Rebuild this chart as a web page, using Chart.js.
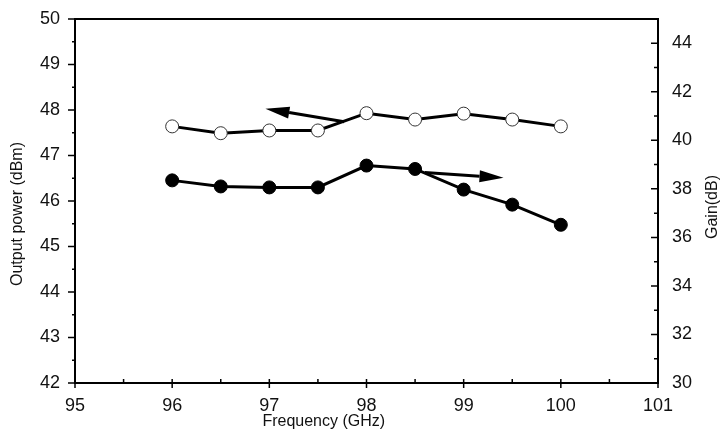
<!DOCTYPE html>
<html>
<head>
<meta charset="utf-8">
<script src="https://cdn.jsdelivr.net/npm/chart.js@4"></script>
<style>
  body { margin: 0; background: #fff; }
  #chart { display: block; }
</style>
</head>
<body>
<canvas id="chart" width="725" height="435"></canvas>
<script>
// Data
const frequency = [96, 96.5, 97, 97.5, 98, 98.5, 99, 99.5, 100];
const outputPower = [47.64, 47.49, 47.55, 47.55, 47.93, 47.79, 47.92, 47.79, 47.64];
const gain = [38.35, 38.1, 38.06, 38.06, 38.96, 38.82, 37.97, 37.35, 36.52];

const xTicks = [95, 96, 97, 98, 99, 100, 101];
const leftTicks = [42, 43, 44, 45, 46, 47, 48, 49, 50];
const rightTicks = [30, 32, 34, 36, 38, 40, 42, 44];

// Panah penunjuk sumbu (koordinat data)
const powerArrow = { from: [97.77, 47.74], to: [96.96, 48.03] };
const gainArrow = { from: [98.6, 38.67], to: [99.41, 38.46] };

const font = 'Arial, "Liberation Sans", sans-serif';

function toPoints(xs, ys) {
  return xs.map((x, i) => ({ x: x, y: ys[i] }));
}

function noPad(s) {
  s.paddingTop = 0;
  s.paddingBottom = 0;
  s.paddingLeft = 0;
  s.paddingRight = 0;
}

// Plugin untuk bingkai, tick mayor/minor, panah dan judul sumbu
const framePlugin = {
  id: 'frame',
  afterDatasetsDraw(chart) {
    const c = chart.ctx;
    const a = chart.chartArea;
    const sx = chart.scales.x, sl = chart.scales.yL, sr = chart.scales.yR;
    c.save();
    c.strokeStyle = '#000';
    c.lineWidth = 2;
    c.strokeRect(a.left, a.top, a.right - a.left, a.bottom - a.top);

    c.lineWidth = 1.5;
    c.beginPath();
    // sumbu x
    for (let v = 95; v <= 101; v += 0.5) {
      const px = sx.getPixelForValue(v);
      if (Number.isInteger(v)) { c.moveTo(px, a.bottom - 4); c.lineTo(px, a.bottom + 5); }
      else { c.moveTo(px, a.bottom); c.lineTo(px, a.bottom - 4); }
    }
    // sumbu kiri
    for (let v = 42; v <= 50; v += 0.5) {
      const py = sl.getPixelForValue(v);
      if (Number.isInteger(v)) { c.moveTo(a.left, py); c.lineTo(a.left - 7, py); }
      else { c.moveTo(a.left, py); c.lineTo(a.left - 3, py); }
    }
    // sumbu kanan
    for (let v = 30; v <= 45; v += 1) {
      const py = sr.getPixelForValue(v);
      if (v % 2 === 0) { c.moveTo(a.right, py); c.lineTo(a.right - 7, py); }
      else { c.moveTo(a.right, py); c.lineTo(a.right - 4, py); }
    }
    c.stroke();

    function arrow(ar, ys) {
      const x1 = sx.getPixelForValue(ar.from[0]), y1 = ys.getPixelForValue(ar.from[1]);
      const x2 = sx.getPixelForValue(ar.to[0]), y2 = ys.getPixelForValue(ar.to[1]);
      const ang = Math.atan2(y2 - y1, x2 - x1);
      const hl = 24, hw = 6;
      const bx = x2 - hl * Math.cos(ang), by = y2 - hl * Math.sin(ang);
      c.lineWidth = 3;
      c.beginPath();
      c.moveTo(x1, y1);
      c.lineTo(bx, by);
      c.stroke();
      c.beginPath();
      c.moveTo(x2, y2);
      c.lineTo(bx + hw * Math.sin(ang), by - hw * Math.cos(ang));
      c.lineTo(bx - hw * Math.sin(ang), by + hw * Math.cos(ang));
      c.closePath();
      c.fillStyle = '#000';
      c.fill();
    }
    arrow(powerArrow, sl);
    arrow(gainArrow, sr);

    // judul sumbu
    function title(text, x, y, rot) {
      c.save();
      c.translate(x, y);
      c.rotate(rot);
      c.fillStyle = '#111';
      c.font = '16px ' + font;
      c.textAlign = 'center';
      c.textBaseline = 'middle';
      c.fillText(text, 0, 0);
      c.restore();
    }
    const mid = (a.top + a.bottom) / 2;
    title('Output power (dBm)', 18, mid + 13, -Math.PI / 2);
    title('Gain(dB)', 713, mid + 6, -Math.PI / 2);
    title('Frequency (GHz)', sx.getPixelForValue(97.56), 422, 0);
    c.restore();
  }
};

const ctx = document.getElementById('chart').getContext('2d');

const chart = new Chart(ctx, {
  type: 'line',
  data: {
    datasets: [{
      label: 'Output power',
      data: toPoints(frequency, outputPower),
      yAxisID: 'yL',
      borderColor: '#000',
      borderWidth: 3,
      pointRadius: 6.5,
      pointBorderWidth: 1,
      pointBorderColor: '#333',
      pointBackgroundColor: '#fff',
      tension: 0
    }, {
      label: 'Gain',
      data: toPoints(frequency, gain),
      yAxisID: 'yR',
      borderColor: '#000',
      borderWidth: 3,
      pointRadius: 6.5,
      pointBorderWidth: 1,
      pointBorderColor: '#000',
      pointBackgroundColor: '#000',
      tension: 0
    }]
  },
  options: {
    responsive: false,
    animation: false,
    layout: { padding: { top: 19, left: 0, right: 0, bottom: 0 } },
    plugins: { legend: { display: false }, tooltip: { enabled: false } },
    scales: {
      x: {
        type: 'linear',
        min: 95, max: 101,
        afterBuildTicks: s => { s.ticks = xTicks.map(v => ({ value: v })); },
        afterFit: s => { s.height = 52; noPad(s); },
        grid: { display: false, drawTicks: false },
        border: { display: false },
        ticks: { color: '#111', font: { family: font, size: 18 }, padding: 12, maxRotation: 0 },
        title: { display: false }
      },
      yL: {
        type: 'linear',
        position: 'left',
        min: 42, max: 50,
        afterBuildTicks: s => { s.ticks = leftTicks.map(v => ({ value: v })); },
        afterFit: s => { s.width = 75; noPad(s); },
        grid: { display: false, drawTicks: false },
        border: { display: false },
        ticks: { color: '#111', font: { family: font, size: 18 }, padding: 15 },
        title: { display: false }
      },
      yR: {
        type: 'linear',
        position: 'right',
        min: 30, max: 45,
        afterBuildTicks: s => { s.ticks = rightTicks.map(v => ({ value: v })); },
        afterFit: s => { s.width = 67; noPad(s); },
        grid: { display: false, drawTicks: false },
        border: { display: false },
        ticks: { color: '#111', font: { family: font, size: 18 }, padding: 14 },
        title: { display: false }
      }
    }
  },
  plugins: [framePlugin]
});
</script>
</body>
</html>
